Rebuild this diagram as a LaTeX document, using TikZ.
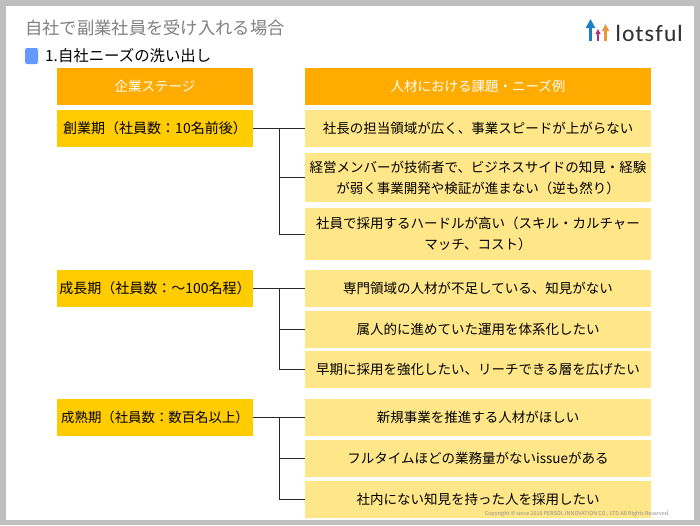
\documentclass[tikz,border=0pt]{standalone}
\usepackage{fontspec}
\setmainfont{Noto Sans CJK JP}
\newfontfamily\logofont[LetterSpace=5]{Lato Medium}
\usetikzlibrary{arrows.meta}
\definecolor{headorange}{HTML}{FFAB00}
\definecolor{stageyellow}{HTML}{FFCC00}
\definecolor{needyellow}{HTML}{FFE789}
\definecolor{framegray}{HTML}{BFBFBF}
\definecolor{markblue}{HTML}{6699FF}
\definecolor{logoblue}{HTML}{1E7FC8}
\definecolor{logored}{HTML}{B03080}
\definecolor{logoorange}{HTML}{E89A40}
\tikzset{
  headbox/.style={fill=headorange, text=white, minimum height=37pt, inner sep=0pt, font=\fontsize{13.5}{16}\selectfont},
  stagebox/.style={fill=stageyellow, minimum width=196pt, minimum height=37pt, inner sep=0pt, font=\fontsize{14}{16}\selectfont},
  needbox/.style={fill=needyellow, minimum width=346pt, inner sep=0pt, align=center, font=\fontsize{13.5}{21}\selectfont},
  treeline/.style={draw=black!85, line width=.9pt},
  logoarrow/.style={-{Triangle[length=#1, width=#1]}, line width=2.8pt}
}
\begin{document}
\begin{tikzpicture}[x=1pt, y=-1pt]
  \useasboundingbox (0, 0) rectangle (700, 525);
  \begin{scope}
    % page and frame
    \fill [color=framegray] (0, 0) rectangle (700, 525);
    \fill [color=white] (6, 6) rectangle (694, 520);

    % headings
    \node (title) [anchor=west, text=black!50, inner sep=0pt, font=\fontsize{17.3}{20}\selectfont] at (25, 28) {自社で副業社員を受け入れる場合};
    \fill [color=markblue, rounded corners=2pt] (25, 48) rectangle (38, 64);
    \node (subtitle) [anchor=west, inner sep=0pt, font=\fontsize{15.4}{18}\selectfont] at (45, 56) {1.自社ニーズの洗い出し};

    % logo
    \coordinate (bluefoot) at (590.5, 41);
    \coordinate (bluetip) at (590.5, 19);
    \coordinate (redfoot) at (598, 41);
    \coordinate (redtip) at (598, 29);
    \coordinate (orangefoot) at (605.5, 41);
    \coordinate (orangetip) at (605.5, 24);
    \draw [logoarrow=9pt, color=logoblue] (bluefoot) -- (bluetip);
    \draw [logoarrow=5pt, color=logored, line width=1.8pt] (redfoot) -- (redtip);
    \draw [logoarrow=7pt, color=logoorange, line width=2.4pt] (orangefoot) -- (orangetip);
    \node (logo) [anchor=west, inner sep=0pt, text=black!80, font=\logofont\fontsize{22}{24}\selectfont] at (615.5, 33) {lotsful};

    % column heads
    \node (stagehead) [headbox, minimum width=196pt] at (155, 86) {企業ステージ};
    \node (needhead) [headbox, minimum width=346pt] at (478, 86) {人材における課題・ニーズ例};

    % stages
    \node (stageone) [stagebox] at (155, 128) {創業期（社員数：10名前後）};
    \node (stagetwo) [stagebox] at (155, 288.5) {成長期（社員数：〜100名程）};
    \node (stagethree) [stagebox, font=\fontsize{13.4}{16}\selectfont] at (155, 417) {成熟期（社員数：数百名以上）};

    % needs
    \node (needa) [needbox, minimum height=37pt] at (478, 128) {社長の担当領域が広く、事業スピードが上がらない};
    \node (needb) [needbox, minimum height=49pt] at (478, 177.5) {経営メンバーが技術者で、ビジネスサイドの知見・経験\\が弱く事業開発や検証が進まない（逆も然り）};
    \node (needc) [needbox, minimum height=52pt] at (478, 234) {社員で採用するハードルが高い（スキル・カルチャー\\マッチ、コスト）};
    \node (needd) [needbox, minimum height=37pt] at (478, 288.5) {専門領域の人材が不足している、知見がない};
    \node (neede) [needbox, minimum height=37pt] at (478, 329.5) {属人的に進めていた運用を体系化したい};
    \node (needf) [needbox, minimum height=37pt] at (478, 369.5) {早期に採用を強化したい、リーチできる層を広げたい};
    \node (needg) [needbox, minimum height=37pt] at (478, 417) {新規事業を推進する人材がほしい};
    \node (needh) [needbox, minimum height=37pt] at (478, 458.5) {フルタイムほどの業務量がないissueがある};
    \node (needi) [needbox, minimum height=37pt] at (478, 499.5) {社内にない知見を持った人を採用したい};

    % trees
    \coordinate (trunkone) at (279, 128);
    \coordinate (trunktwo) at (279, 288.5);
    \coordinate (trunkthree) at (279, 417);
    \draw [treeline] (stageone.east) -- (needa.west);
    \draw [treeline] (trunkone) |- (needb.west);
    \draw [treeline] (trunkone) |- (needc.west);
    \draw [treeline] (stagetwo.east) -- (needd.west);
    \draw [treeline] (trunktwo) |- (neede.west);
    \draw [treeline] (trunktwo) |- (needf.west);
    \draw [treeline] (stagethree.east) -- (needg.west);
    \draw [treeline] (trunkthree) |- (needh.west);
    \draw [treeline] (trunkthree) |- (needi.west);

    \node (copyright) [anchor=east, inner sep=0pt, text=black!45, font=\fontsize{5.4}{6}\selectfont] at (670, 514.5) {Copyright © since 2019 PERSOL INNOVATION CO., LTD.All Rights Reserved.};
  \end{scope}
\end{tikzpicture}
\end{document}
